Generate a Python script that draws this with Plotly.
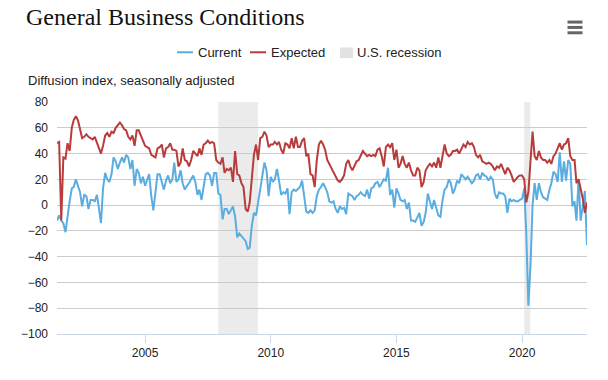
import pandas as pd
import plotly.graph_objects as go

# Monthly data, July 2001 - August 2022 (diffusion index, seasonally adjusted)
start_month = "2001-07-01"

current = [
    # 2001 (Jul-Dec)
    -12, -8, -12, -14, -21, -8,
    # 2002
    3, 13, 14, 20, 14, 10, -1, 8, 7, -3, 4, 4,
    # 2003
    3, 8, -2, -14, 13, 25, 20, 18, 24, 37, 34, 28,
    # 2004
    33, 37, 33, 39, 37, 28, 35, 15, 28, 25, 17, 22,
    # 2005
    15, 20, 24, 7, -4, 10, 24, 24, 18, 12, 19, 23,
    # 2006
    17, 20, 33, 18, 20, 27, 17, 12, 15, 17, 20, 23,
    # 2007
    18, 8, 12, 4, 14, 24, 25, 23, 15, 25, 25, 9,
    # 2008
    8, -11, -3, -3, -7, -4, -1, -9, -25, -22, -24, -26,
    # 2009
    -28, -34, -33, -16, -6, -8, 2, 12, 22, 33, 27, 7,
    # 2010
    22, 18, 20, 28, 19, 8, 10, 9, 13, -7, 10, 12,
    # 2011
    11, 13, 14, 19, 8, -5, -6, -4, -6, -4, 7, 12,
    # 2012
    14, 17, 14, 10, 3, 2, 3, -3, -6, -1, -3, -2,
    # 2013
    -7, 9, 8, 7, 4, 7, 8, 10, 8, 7, 12, 5,
    # 2014
    13, 14, 17, 18, 14, 17, 20, 19, 29, 8, 12, -2,
    # 2015
    13, 9, 4, 3, 4, -3, 2, -12, -12, -13, -10, -6,
    # 2016
    -16, -13, -6, 9, 3, -3, 4, -2, -8, -9, 4, 12,
    # 2017
    14, 20, 17, 9, 13, 19, 17, 24, 22, 20, 22, 19,
    # 2018
    17, 19, 23, 24, 20, 25, 23, 22, 19, 22, 20, 9,
    # 2019
    5, 10, 9, 9, 7, -6, 5, 3, 4, 3, 3, 4,
    # 2020
    5, 13, -21, -78, -48, 0, 17, 4, 17, 10, 6, 5,
    # 2021
    4, 12, 17, 26, 24, 18, 41, 18, 34, 19, 35, 32,
    # 2022 (Jan-Aug)
    -1, 3, -12, 20, -12, -1, 11, -31,
]

expected = [
    # 2001 (Jul-Dec)
    48, 49, -12, 37, 36, 48,
    # 2002
    42, 60, 66, 69, 66, 59, 52, 53, 55, 53, 52, 51,
    # 2003
    53, 48, 44, 40, 46, 54, 56, 53, 57, 56, 60, 62,
    # 2004
    64, 62, 59, 58, 53, 51, 54, 46, 58, 58, 54, 49,
    # 2005
    46, 45, 44, 39, 38, 37, 44, 45, 47, 37, 44, 45,
    # 2006
    48, 43, 43, 42, 30, 33, 44, 35, 34, 30, 35, 42,
    # 2007
    40, 38, 44, 39, 47, 48, 50, 48, 49, 48, 35, 33,
    # 2008
    32, 37, 25, 28, 27, 29, 18, 42, 24, 23, 17, 14,
    # 2009
    -3, -5, 2, 22, 39, 47, 35, 52, 53, 57, 54, 45,
    # 2010
    47, 47, 49, 47, 49, 43, 40, 48, 47, 44, 52, 44,
    # 2011
    53, 45, 45, 50, 52, 38, 40, 24, 23, 14, 35, 47,
    # 2012
    50, 47, 43, 35, 32, 28, 25, 22, 19, 18, 20, 23,
    # 2013
    32, 35, 30, 27, 30, 34, 35, 38, 42, 40, 38, 39,
    # 2014
    38, 39, 38, 43, 44, 38, 30, 45, 47, 45, 48, 35,
    # 2015
    43, 29, 32, 38, 32, 29, 33, 27, 23, 23, 29, 27,
    # 2016
    14, 18, 27, 30, 32, 30, 33, 29, 37, 29, 39, 47,
    # 2017
    40, 38, 39, 42, 42, 43, 40, 43, 47, 45, 49, 47,
    # 2018
    48, 45, 39, 37, 39, 34, 33, 32, 33, 32, 30, 27,
    # 2019
    30, 29, 32, 28, 24, 29, 27, 23, 18, 20, 22, 23,
    # 2020
    23, 20, 2, 10, 30, 57, 38, 35, 42, 37, 35, 35,
    # 2021
    33, 35, 32, 38, 40, 44, 48, 43, 47, 48, 52, 38,
    # 2022 (Jan-Aug)
    35, 35, 17, 20, 13, 5, -6, 2,
]

recessions = [("2007-12-01", "2009-06-30"), ("2020-02-01", "2020-04-30")]

tick_dates = ["2005-01-01", "2010-01-01", "2015-01-01", "2020-01-01"]
tick_labels = ["2005", "2010", "2015", "2020"]

series_names = ["Current", "Expected"]
recession_label = "U.S. recession"

dates = pd.date_range(start_month, periods=len(current), freq="MS")

BLUE = "#5aade0"
RED = "#b83c3c"
SHADE = "#ebebeb"
FONT = "Liberation Sans, Arial, sans-serif"

# The page body has an 8px margin, so the figure sits at (8, 8) in the window.
OFF = 8
W, H = 592, 364
# plot area in window pixels: x 57..587, y 102..340
L, R, T, B = 57 - OFF, (OFF + W) - 587, 102 - OFF, (OFF + H) - 340
PW, PH = W - L - R, H - T - B


def px(x):
    """window pixel x -> paper coordinate"""
    return (x - OFF - L) / PW


def py(y):
    """window pixel y -> paper coordinate"""
    return (OFF + H - B - y) / PH


fig = go.Figure()

fig.add_trace(go.Scatter(x=dates, y=current, mode="lines", name=series_names[0],
                         line=dict(color=BLUE, width=2), showlegend=False))
fig.add_trace(go.Scatter(x=dates, y=expected, mode="lines", name=series_names[1],
                         line=dict(color=RED, width=2), showlegend=False))

shapes = []
for a, b in recessions:
    shapes.append(dict(type="rect", xref="x", yref="paper", x0=a, x1=b, y0=0, y1=1,
                       fillcolor=SHADE, line=dict(width=0), layer="below"))

# legend (drawn to match the original's compact legend)
LEG_Y = 51
shapes.append(dict(type="line", xref="paper", yref="paper", x0=px(177), x1=px(193),
                   y0=py(LEG_Y), y1=py(LEG_Y), line=dict(color=BLUE, width=2)))
shapes.append(dict(type="line", xref="paper", yref="paper", x0=px(250), x1=px(266),
                   y0=py(LEG_Y), y1=py(LEG_Y), line=dict(color=RED, width=2)))
shapes.append(dict(type="rect", xref="paper", yref="paper", x0=px(340), x1=px(353),
                   y0=py(LEG_Y + 6), y1=py(LEG_Y - 5), fillcolor="#e2e2e2",
                   line=dict(width=0)))

# menu icon (three bars)
for yy in (20, 25.5, 31):
    shapes.append(dict(type="line", xref="paper", yref="paper",
                       x0=px(567.5), x1=px(582.5), y0=py(yy), y1=py(yy),
                       line=dict(color="#666666", width=3)))

legend_font = dict(family=FONT, size=13, color="#222222")
annotations = [
    dict(text="Diffusion index, seasonally adjusted", xref="paper", yref="paper",
         x=px(26), xanchor="left", y=py(80), yanchor="middle", showarrow=False,
         font=dict(family=FONT, size=13, color="#222222")),
    dict(text=series_names[0], xref="paper", yref="paper", x=px(196), xanchor="left",
         y=py(LEG_Y), yanchor="middle", showarrow=False, font=legend_font),
    dict(text=series_names[1], xref="paper", yref="paper", x=px(269), xanchor="left",
         y=py(LEG_Y), yanchor="middle", showarrow=False, font=legend_font),
    dict(text=recession_label, xref="paper", yref="paper", x=px(355), xanchor="left",
         y=py(LEG_Y), yanchor="middle", showarrow=False, font=legend_font),
]

fig.update_layout(
    width=W, height=H,
    margin=dict(l=L, r=R, t=T, b=B),
    paper_bgcolor="white", plot_bgcolor="white",
    font=dict(family=FONT, size=12, color="#333333"),
    title=dict(text="General Business Conditions", xref="container", yref="container",
               x=(26 - OFF) / W, xanchor="left", y=1.0, yanchor="top",
               pad=dict(t=0, b=0, l=0, r=0),
               font=dict(family="Liberation Serif, Times New Roman, serif", size=24,
                         color="#111111")),
    showlegend=False,
    shapes=shapes,
    annotations=annotations,
    hovermode="x unified",
)

fig.update_xaxes(type="date", range=["2001-07-01", "2022-08-01"],
                 tickvals=tick_dates, ticktext=tick_labels,
                 showgrid=False, zeroline=False,
                 showline=True, linecolor="#ccd6eb", linewidth=1,
                 ticks="outside", ticklen=8, tickcolor="#ccd6eb",
                 tickfont=dict(family=FONT, size=12, color="#222222"))
fig.update_yaxes(range=[-100, 80], dtick=20, tick0=0,
                 showgrid=True, gridcolor="#cccccc", gridwidth=1,
                 zeroline=False, showline=False, ticks="",
                 ticklabelstandoff=8,
                 tickfont=dict(family=FONT, size=12, color="#222222"))

fig.write_html("out.html")
